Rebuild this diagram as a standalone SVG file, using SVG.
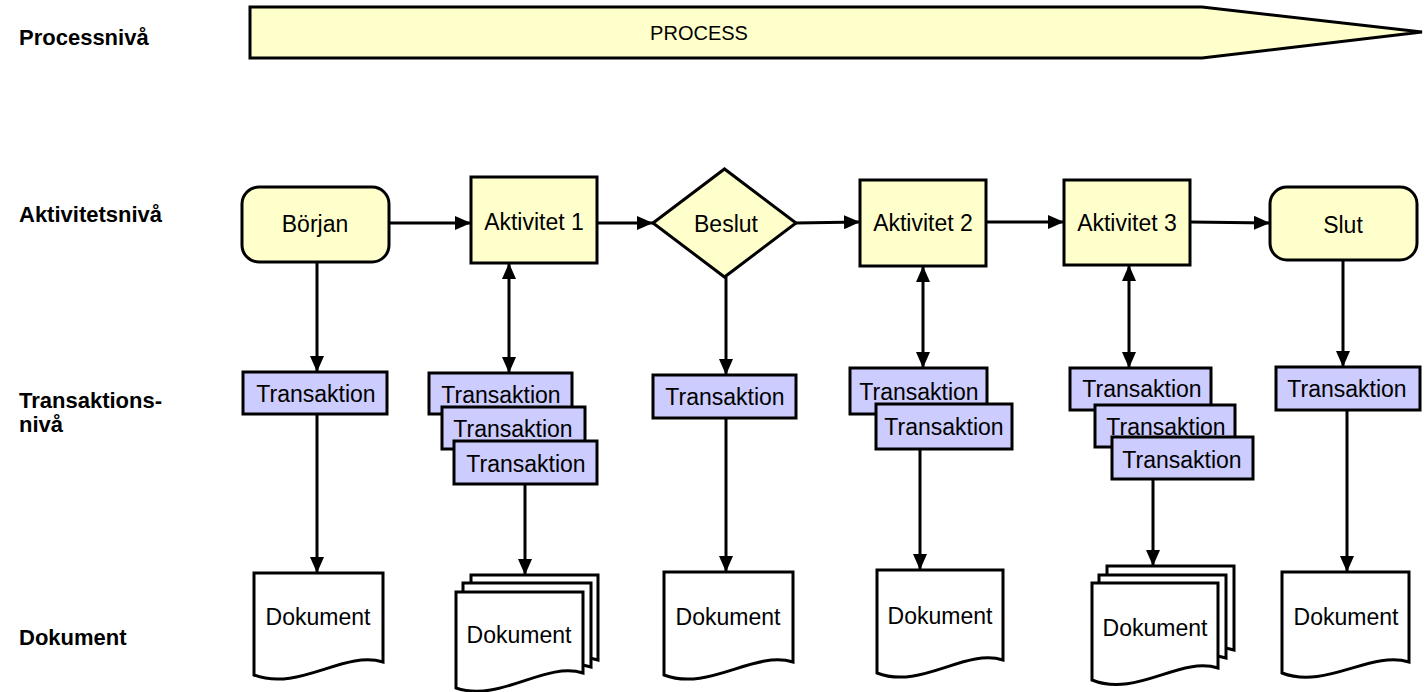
<svg xmlns="http://www.w3.org/2000/svg" width="1425" height="692" viewBox="0 0 1425 692">
<style>
.y{fill:#FFFFCC;stroke:#000;stroke-width:3}
.t{fill:#CCCCFF;stroke:#000;stroke-width:3}
.d{fill:#FFFFFF;stroke:#000;stroke-width:3;stroke-linejoin:miter}
text{font-family:"Liberation Sans",Arial,sans-serif;fill:#000}
.l{font-size:23px;text-anchor:middle}
.v{font-size:22px;font-weight:bold}
.c{stroke:#000;stroke-width:3;fill:none}
</style>
<defs>
<marker id="ah" viewBox="0 0 16 14" refX="16" refY="7" markerWidth="16" markerHeight="14" orient="auto-start-reverse" markerUnits="userSpaceOnUse">
<path d="M0,0 L16,7 L0,14 Z" fill="#000"/>
</marker>
</defs>

<g id="levels">
<text class="v" x="19" y="45">Processnivå</text>
<text class="v" x="19" y="222">Aktivitetsnivå</text>
<text class="v" x="19" y="408">Transaktions-</text>
<text class="v" x="19" y="432">nivå</text>
<text class="v" x="19" y="645">Dokument</text>
</g>

<g id="process">
<polygon class="y" points="250,7 1202,7 1422,32 1202,58 250,58"/>
<text x="699" y="40" style="font-size:20px;text-anchor:middle">PROCESS</text>
</g>

<g id="connectors">
<line class="c" x1="389" y1="223" x2="471" y2="223" marker-end="url(#ah)"/>
<line class="c" x1="597" y1="223" x2="653" y2="223" marker-end="url(#ah)"/>
<line class="c" x1="796" y1="223" x2="860" y2="222" marker-end="url(#ah)"/>
<line class="c" x1="986" y1="222" x2="1064" y2="222" marker-end="url(#ah)"/>
<line class="c" x1="1190" y1="222" x2="1270" y2="223" marker-end="url(#ah)"/>
<line class="c" x1="317" y1="262" x2="317" y2="372" marker-end="url(#ah)"/>
<line class="c" x1="317" y1="414" x2="317" y2="573" marker-end="url(#ah)"/>
<line class="c" x1="509" y1="263" x2="509" y2="373" marker-start="url(#ah)" marker-end="url(#ah)"/>
<line class="c" x1="525" y1="484" x2="525" y2="575" marker-end="url(#ah)"/>
<line class="c" x1="726" y1="277" x2="726" y2="375" marker-end="url(#ah)"/>
<line class="c" x1="726" y1="418" x2="726" y2="572" marker-end="url(#ah)"/>
<line class="c" x1="923" y1="266" x2="923" y2="368" marker-start="url(#ah)" marker-end="url(#ah)"/>
<line class="c" x1="920" y1="449" x2="920" y2="570" marker-end="url(#ah)"/>
<line class="c" x1="1129" y1="265" x2="1129" y2="368" marker-start="url(#ah)" marker-end="url(#ah)"/>
<line class="c" x1="1153" y1="479" x2="1153" y2="566" marker-end="url(#ah)"/>
<line class="c" x1="1343" y1="260" x2="1343" y2="367" marker-end="url(#ah)"/>
<line class="c" x1="1347" y1="410" x2="1347" y2="572" marker-end="url(#ah)"/>
</g>

<g id="borjan">
<rect class="y" x="242" y="187" width="147" height="75" rx="17"/>
<text class="l" x="315" y="232">Början</text>
</g>
<g id="aktivitet1">
<rect class="y" x="471" y="177" width="126" height="86"/>
<text class="l" x="534" y="230">Aktivitet 1</text>
</g>
<g id="beslut">
<polygon class="y" points="653,223 724.5,169 796,223 724.5,277"/>
<text class="l" x="726" y="232">Beslut</text>
</g>
<g id="aktivitet2">
<rect class="y" x="860" y="180" width="126" height="86"/>
<text class="l" x="923" y="231">Aktivitet 2</text>
</g>
<g id="aktivitet3">
<rect class="y" x="1064" y="180" width="126" height="85"/>
<text class="l" x="1127" y="231">Aktivitet 3</text>
</g>
<g id="slut">
<rect class="y" x="1270" y="187" width="147" height="73" rx="17"/>
<text class="l" x="1343" y="233">Slut</text>
</g>

<g id="trans-borjan">
<rect class="t" x="243" y="372" width="144" height="42"/>
<text class="l" x="316" y="402">Transaktion</text>
</g>
<g id="trans-akt1">
<rect class="t" x="429" y="373" width="143" height="41"/>
<text class="l" x="501" y="403">Transaktion</text>
<rect class="t" x="442" y="407" width="143" height="42"/>
<text class="l" x="513" y="437">Transaktion</text>
<rect class="t" x="454" y="441" width="143" height="43"/>
<text class="l" x="526" y="472">Transaktion</text>
</g>
<g id="trans-beslut">
<rect class="t" x="653" y="375" width="143" height="43"/>
<text class="l" x="725" y="405">Transaktion</text>
</g>
<g id="trans-akt2">
<rect class="t" x="850" y="368" width="137" height="46"/>
<text class="l" x="919" y="400">Transaktion</text>
<rect class="t" x="876" y="404" width="136" height="45"/>
<text class="l" x="944" y="435">Transaktion</text>
</g>
<g id="trans-akt3">
<rect class="t" x="1070" y="368" width="141" height="42"/>
<text class="l" x="1142" y="397">Transaktion</text>
<rect class="t" x="1095" y="405" width="140" height="42"/>
<text class="l" x="1166" y="435">Transaktion</text>
<rect class="t" x="1112" y="437" width="141" height="42"/>
<text class="l" x="1182" y="468">Transaktion</text>
</g>
<g id="trans-slut">
<rect class="t" x="1276" y="367" width="144" height="43"/>
<text class="l" x="1347" y="397">Transaktion</text>
</g>

<g id="dok-borjan">
<path class="d" d="M254,573 H383 V662 C344,650 299,692 254,675 Z"/>
<text class="l" x="318" y="625">Dokument</text>
</g>
<g id="dok-akt1">
<path class="d" d="M471,575 H598 V660 C560,648 515,690 471,673 Z"/>
<path class="d" d="M463,583 H591 V667 C553,655 508,697 463,680 Z"/>
<path class="d" d="M456,592 H583 V673 C545,661 500,703 456,688 Z"/>
<text class="l" x="519" y="643">Dokument</text>
</g>
<g id="dok-beslut">
<path class="d" d="M664,572 H793 V662 C754,650 709,692 664,675 Z"/>
<text class="l" x="728" y="625">Dokument</text>
</g>
<g id="dok-akt2">
<path class="d" d="M877,570 H1003 V660 C965,648 921,690 877,673 Z"/>
<text class="l" x="940" y="624">Dokument</text>
</g>
<g id="dok-akt3">
<path class="d" d="M1107,566 H1234 V650 C1196,638 1151,680 1107,663 Z"/>
<path class="d" d="M1099,575 H1226 V658 C1188,646 1143,688 1099,671 Z"/>
<path class="d" d="M1092,583 H1218 V668 C1180,656 1136,698 1092,680 Z"/>
<text class="l" x="1155" y="636">Dokument</text>
</g>
<g id="dok-slut">
<path class="d" d="M1282,572 H1409 V662 C1371,650 1326,690 1282,673 Z"/>
<text class="l" x="1346" y="625">Dokument</text>
</g>
</svg>
